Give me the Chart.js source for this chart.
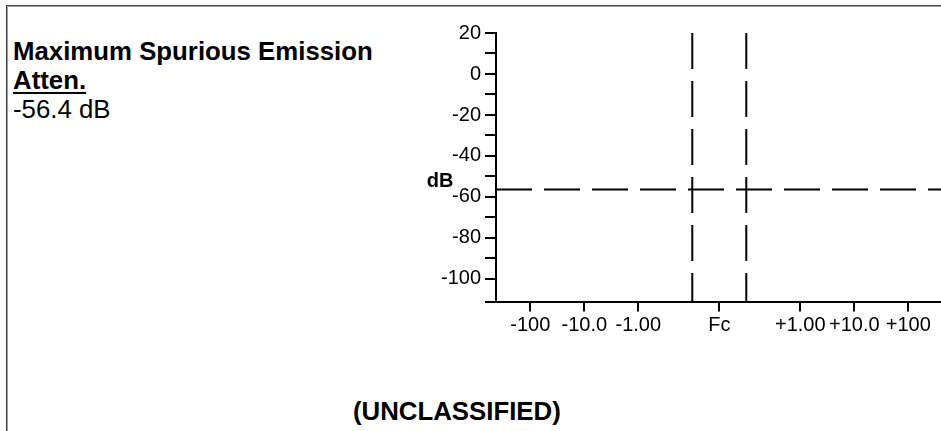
<!DOCTYPE html>
<html>
<head>
<meta charset="utf-8">
<script src="https://cdn.jsdelivr.net/npm/chart.js@4"></script>
<style>
  html, body { margin: 0; padding: 0; background: #fff; overflow: hidden; width: 941px; height: 431px; }
  .frame { position: absolute; left: 6px; top: 5px; width: 1000px; height: 500px;
           border-top: 1px solid #404040; border-left: 1px solid #404040;
           box-shadow: inset 1px 1px 0 #a0a0a0; }
  .txt { position: absolute; font-family: "Liberation Sans", Arial, sans-serif; font-size: 25.8px;
         line-height: 29px; color: #000; white-space: nowrap; }
  .b { font-weight: bold; }
  .u { text-decoration: underline; text-decoration-thickness: 2px; text-underline-offset: 3px; }
  canvas { position: absolute; left: 0; top: 0; }
</style>
</head>
<body>
<div class="frame"></div>
<div class="txt b" id="t1" style="left:13px; top:37px;"></div>
<div class="txt b u" id="t2" style="left:13px; top:66px;"></div>
<div class="txt" id="t3" style="left:13px; top:95px;"></div>
<div class="txt b" id="t4" style="left:353px; top:397px;"></div>
<canvas id="c" width="941" height="431"></canvas>
<script>
// ---- data ----
const headline = 'Maximum Spurious Emission';
const subhead = 'Atten.';
const maxSpuriousAtten = -56.4;          // dB
const valueUnit = 'dB';
const classification = '(UNCLASSIFIED)';
const yAxisTitle = 'dB';

const xTickLabels = ['-100', '-10.0', '-1.00', 'Fc', '+1.00', '+10.0', '+100'];
const xTickValues = [-3.5, -2.5, -1.5, 0, 1.5, 2.5, 3.5];
const bandEdges = [-0.5, 0.5];           // emission band edges around Fc
const yTickValues = [20, 10, 0, -10, -20, -30, -40, -50, -60, -70, -80, -90, -100, -111];
const yLabelStep = 20;
const xMin = -4.135, xMax = 4.106;
const yMin = -111, yMax = 20;

// ---- text ----
document.getElementById('t1').textContent = headline;
document.getElementById('t2').textContent = subhead;
document.getElementById('t3').textContent = maxSpuriousAtten.toFixed(1) + ' ' + valueUnit;
document.getElementById('t4').textContent = classification;

const FONT = '"Liberation Sans", Arial, sans-serif';
const INK = '#000';

const datasets = [
  {
    data: [{x: xMin, y: maxSpuriousAtten}, {x: xMax, y: maxSpuriousAtten}],
    borderColor: INK, borderWidth: 2, borderDash: [36, 12], pointRadius: 0, fill: false
  },
  ...bandEdges.map(e => ({
    data: [{x: e, y: yMax}, {x: e, y: yMin}],
    borderColor: INK, borderWidth: 2, borderDash: [36, 12], pointRadius: 0, fill: false
  }))
];

const yTitlePlugin = {
  id: 'yTitle',
  afterDraw(chart) {
    const {ctx, chartArea, scales} = chart;
    ctx.save();
    ctx.font = 'bold 20px ' + FONT;
    ctx.fillStyle = INK;
    ctx.textAlign = 'center';
    ctx.textBaseline = 'alphabetic';
    ctx.fillText(yAxisTitle, chartArea.left - 56, scales.y.getPixelForValue(-55));
    ctx.restore();
  }
};

new Chart(document.getElementById('c'), {
  type: 'line',
  data: { datasets },
  plugins: [yTitlePlugin],
  options: {
    responsive: false,
    animation: false,
    events: [],
    layout: { padding: { top: 33, left: 0, right: 0, bottom: 0 } },
    plugins: { legend: { display: false }, tooltip: { enabled: false }, title: { display: false } },
    scales: {
      x: {
        type: 'linear', min: xMin, max: xMax,
        afterBuildTicks(scale) { scale.ticks = xTickValues.map(v => ({ value: v })); },
        afterFit(scale) { scale.height = 129.5; },
        ticks: {
          autoSkip: false, maxRotation: 0, minRotation: 0, padding: 2,
          color: INK, font: { family: FONT, size: 20 },
          callback(value, index) { return xTickLabels[index]; }
        },
        grid: { drawOnChartArea: false, drawTicks: true, tickLength: 10, color: INK, lineWidth: 2 },
        border: { display: true, color: INK, width: 2 }
      },
      y: {
        type: 'linear', min: yMin, max: yMax,
        afterBuildTicks(scale) { scale.ticks = yTickValues.map(v => ({ value: v })); },
        afterFit(scale) { scale.width = 496; },
        ticks: {
          autoSkip: false, padding: 4,
          color: INK, font: { family: FONT, size: 20 },
          callback(value) { return (value % yLabelStep === 0) ? String(value) : ''; }
        },
        grid: { drawOnChartArea: false, drawTicks: true, tickLength: 11, color: INK, lineWidth: 2 },
        border: { display: true, color: INK, width: 2 }
      }
    }
  }
});
</script>
</body>
</html>
